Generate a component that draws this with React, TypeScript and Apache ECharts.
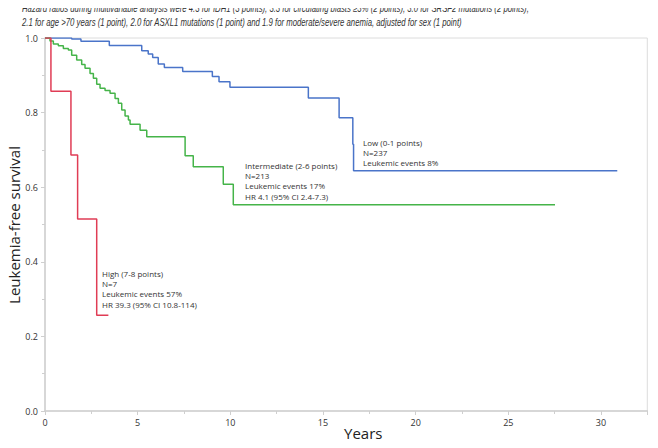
import React, { useEffect, useRef } from "react";
import * as echarts from "echarts";

const titleLines = [
  "Hazard ratios during multivariable analysis were 4.3 for IDH1 (3 points), 3.3 for circulating blasts \u22653% (2 points), 3.0 for SRSF2 mutations (2 points),",
  "2.1 for age >70 years (1 point), 2.0 for ASXL1 mutations (1 point) and 1.9 for moderate/severe anemia, adjusted for sex (1 point)",
];

const lowTimes = [0, 1.44, 1.94, 3.47, 5.22, 5.57, 5.81, 6.11, 6.44, 7.43, 9.03, 9.39, 9.98, 14.21, 15.87, 16.61, 16.65, 30.88];
const lowSurv = [1.0, 0.997, 0.991, 0.98, 0.966, 0.957, 0.948, 0.93, 0.921, 0.91, 0.897, 0.883, 0.868, 0.839, 0.786, 0.715, 0.644, 0.644];

const intTimes = [0, 0.27, 0.45, 0.72, 0.99, 1.26, 1.44, 1.71, 1.98, 2.16, 2.43, 2.61, 2.79, 2.97, 3.24, 3.51, 3.78, 3.96, 4.14, 4.32, 4.5, 4.59, 5.13, 5.49, 7.56, 8.0, 9.62, 10.16, 27.52];
const intSurv = [1.0, 0.992, 0.984, 0.979, 0.972, 0.968, 0.954, 0.941, 0.929, 0.919, 0.905, 0.892, 0.876, 0.865, 0.859, 0.852, 0.838, 0.825, 0.807, 0.791, 0.78, 0.769, 0.753, 0.735, 0.684, 0.655, 0.608, 0.553, 0.553];

const highTimes = [0, 0.32, 1.4, 1.76, 2.79, 3.42];
const highSurv = [1.0, 0.857, 0.686, 0.515, 0.257, 0.257];

const lowLabel = ["Low (0-1 points)", "N=237", "Leukemic events 8%"];
const intLabel = ["Intermediate (2-6 points)", "N=213", "Leukemic events 17%", "HR 4.1 (95% CI 2.4-7.3)"];
const highLabel = ["High (7-8 points)", "N=7", "Leukemic events 57%", "HR 39.3 (95% CI 10.8-114)"];

const xTicks = [0, 5, 10, 15, 20, 25, 30];

const zip = (t: number[], s: number[]) => t.map((v, i) => [v, s[i]]);

export default function App() {
  const ref = useRef<HTMLDivElement>(null);
  useEffect(() => {
    if (!ref.current) return;
    const chart = echarts.init(ref.current, null, { renderer: "svg" });
    const font = "Liberation Sans, sans-serif";
    const annFont = "Open Sans, sans-serif";
    const axisColor = "#cfcfcf";
    const ann = (lines: string[], x: number, y: number) => ({
      type: "text",
      x,
      y,
      style: {
        text: lines.join("\n"),
        fontSize: 8,
        lineHeight: 10.3,
        fill: "#333",
        fontFamily: annFont,
      },
    });
    const titleText = (line: string, y: number) => ({
      type: "text",
      x: 22,
      y,
      scaleX: 0.74,
      style: {
        text: line,
        fontSize: 10.5,
        fontStyle: "italic",
        fill: "#333",
        fontFamily: font,
        verticalAlign: "middle",
      },
    });
    chart.setOption({
      animation: false,
      backgroundColor: "#fff",
      grid: {
        left: 45,
        right: 10.7,
        top: 38,
        bottom: 37,
        show: true,
        borderColor: "#dcdcdc",
        borderWidth: 1,
      },
      xAxis: {
        type: "value",
        min: 0,
        max: 32.5,
        interval: 5,
        splitLine: { show: false },
        axisLine: { show: true, lineStyle: { color: axisColor, width: 1.5 } },
        axisTick: { show: true, length: 4, lineStyle: { color: axisColor } },
        minorTick: { show: true, splitNumber: 2, length: 3, lineStyle: { color: axisColor } },
        axisLabel: {
          color: "#333",
          fontSize: 9,
          fontFamily: annFont,
          margin: 7,
          formatter: (v: number) => (xTicks.includes(v) ? String(v) : ""),
        },
      },
      yAxis: {
        type: "value",
        min: 0,
        max: 1,
        interval: 0.2,
        splitLine: { show: false },
        axisLine: { show: true, lineStyle: { color: axisColor, width: 1.5 } },
        axisTick: { show: true, length: 4, lineStyle: { color: axisColor } },
        minorTick: { show: true, splitNumber: 2, length: 3, lineStyle: { color: axisColor } },
        axisLabel: {
          color: "#333",
          fontSize: 9,
          fontFamily: annFont,
          margin: 7,
          formatter: (v: number) => v.toFixed(1),
        },
      },
      series: [
        {
          type: "line",
          step: "end",
          data: zip(lowTimes, lowSurv),
          showSymbol: false,
          lineStyle: { color: "#4a74c9", width: 1.5 },
        },
        {
          type: "line",
          step: "end",
          data: zip(intTimes, intSurv),
          showSymbol: false,
          lineStyle: { color: "#45b449", width: 1.5 },
        },
        {
          type: "line",
          step: "end",
          data: zip(highTimes, highSurv),
          showSymbol: false,
          lineStyle: { color: "#e03c55", width: 1.5 },
        },
      ],
      graphic: [
        titleText(titleLines[0], 8.5),
        titleText(titleLines[1], 22.5),
        ann(lowLabel, 363, 137),
        ann(intLabel, 245, 160),
        ann(highLabel, 102, 268),
        {
          type: "text",
          x: 14,
          y: 225,
          rotation: Math.PI / 2,
          style: {
            text: "Leukemia-free survival",
            fontSize: 15,
            fill: "#222",
            fontFamily: annFont,
            align: "center",
            verticalAlign: "middle",
          },
        },
        {
          type: "text",
          x: 344,
          y: 433,
          style: {
            text: "Years",
            fontSize: 15,
            fill: "#222",
            fontFamily: annFont,
            verticalAlign: "middle",
          },
        },
      ],
    });
    return () => chart.dispose();
  }, []);
  return <div ref={ref} style={{ width: 658, height: 448, margin: -8 }} />;
}
